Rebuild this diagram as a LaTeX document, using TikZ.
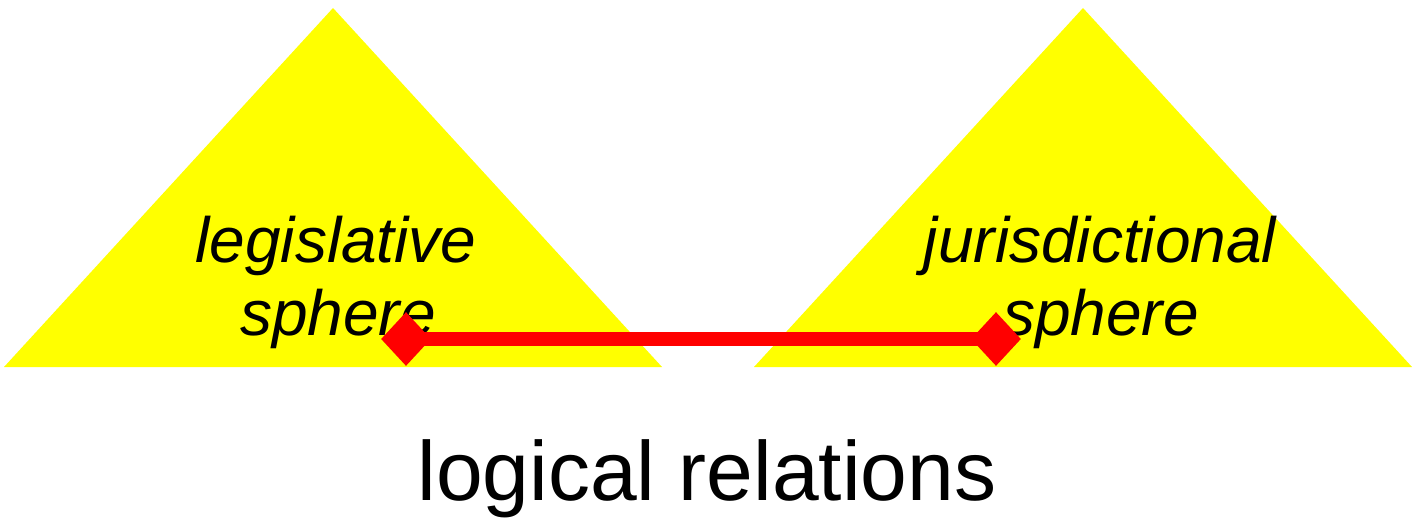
\documentclass[tikz,border=0pt]{standalone}
\usepackage{fontspec}
\setmainfont{Liberation Sans}
\usetikzlibrary{shapes.geometric}
\definecolor{tyellow}{HTML}{FFFF00}
\definecolor{tred}{HTML}{FF0000}
\begin{document}
\begin{tikzpicture}[x=0.5pt,y=-0.5pt,
  sphere/.style={fill=tyellow, draw=none},
  lbl/.style={anchor=base, inner sep=0pt, font=\fontsize{32}{36}\selectfont\itshape},
  endmark/.style={diamond, fill=tred, draw=none, inner sep=0pt, minimum width=25pt, minimum height=27pt},
  relation/.style={draw=tred, line width=7pt}]
\useasboundingbox (0,0) rectangle (1423,524);
\fill[sphere] (333,8) -- (662,367) -- (4,367) -- cycle;
\fill[sphere] (1083,8) -- (1412,367) -- (754,367) -- cycle;
\node[lbl] (legA) at (336,262) {legislative};
\node[lbl] (legB) at (338,335) {sphere};
\node[lbl] (jurA) at (1100,262) {jurisdictional};
\node[lbl] (jurB) at (1101,335) {sphere};
\node[endmark] (dL) at (406,339) {};
\node[endmark] (dR) at (996,339) {};
\draw[relation] (dL.center) -- (dR.center);
\node[anchor=base, inner sep=0pt, font=\fontsize{42}{48}\selectfont] (title) at (707,500) {logical relations};
\end{tikzpicture}
\end{document}
